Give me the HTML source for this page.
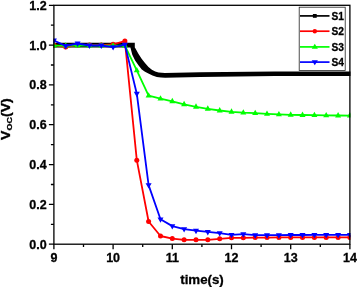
<!DOCTYPE html>
<html><head><meta charset="utf-8"><title>Voc vs time</title>
<style>html,body{margin:0;padding:0;background:#fff}svg{display:block}text{stroke:#000;stroke-width:.3px}</style></head>
<body>
<svg width="357" height="287" viewBox="0 0 357 287">
<rect width="357" height="287" fill="#fff"/>
<defs><clipPath id="cp"><rect x="53.3" y="4.7" width="297.2" height="240.1"/></clipPath></defs>
<g clip-path="url(#cp)">
<path d="M53.0 42.7L134.8 42.7L134.8 47.4L135.5 48.4L138.4 53.7L141.8 58.9L145.2 63.2L148.5 66.9L151.9 69.8L155.2 71.6L158.6 72.5L165.0 72.9L200.0 72.2L275.0 71.5L351.0 71.5L351.0 76.1L275.0 76.1L200.0 77.0L165.2 77.8L161.0 77.6L156.8 77.0L152.5 75.6L148.4 73.6L145.0 71.8L141.8 69.6L139.0 66.0L135.1 60.4L132.3 54.8L130.6 48.2L130.4 47.5L53.0 47.5z" fill="#000"/>
<polyline points="53.9,45.1 65.7,47.1 77.6,45.1 89.4,45.1 101.3,45.1 113.1,44.3 124.9,41.1 136.8,160.2 148.6,221.5 160.5,236.0 172.3,238.6 184.1,239.8 196.0,239.8 207.8,239.8 219.7,238.8 231.5,237.8 243.3,237.8 255.2,237.6 267.0,237.6 278.9,237.4 290.7,237.4 302.5,237.4 314.4,237.4 326.2,237.4 338.1,237.4 349.9,237.4" fill="none" stroke="#f00" stroke-width="1.8" stroke-linejoin="round"/>
<circle cx="53.9" cy="45.1" r="2.5" fill="#f00"/>
<circle cx="65.7" cy="47.1" r="2.5" fill="#f00"/>
<circle cx="77.6" cy="45.1" r="2.5" fill="#f00"/>
<circle cx="89.4" cy="45.1" r="2.5" fill="#f00"/>
<circle cx="101.3" cy="45.1" r="2.5" fill="#f00"/>
<circle cx="113.1" cy="44.3" r="2.5" fill="#f00"/>
<circle cx="124.9" cy="41.1" r="2.5" fill="#f00"/>
<circle cx="136.8" cy="160.2" r="2.5" fill="#f00"/>
<circle cx="148.6" cy="221.5" r="2.5" fill="#f00"/>
<circle cx="160.5" cy="236.0" r="2.5" fill="#f00"/>
<circle cx="172.3" cy="238.6" r="2.5" fill="#f00"/>
<circle cx="184.1" cy="239.8" r="2.5" fill="#f00"/>
<circle cx="196.0" cy="239.8" r="2.5" fill="#f00"/>
<circle cx="207.8" cy="239.8" r="2.5" fill="#f00"/>
<circle cx="219.7" cy="238.8" r="2.5" fill="#f00"/>
<circle cx="231.5" cy="237.8" r="2.5" fill="#f00"/>
<circle cx="243.3" cy="237.8" r="2.5" fill="#f00"/>
<circle cx="255.2" cy="237.6" r="2.5" fill="#f00"/>
<circle cx="267.0" cy="237.6" r="2.5" fill="#f00"/>
<circle cx="278.9" cy="237.4" r="2.5" fill="#f00"/>
<circle cx="290.7" cy="237.4" r="2.5" fill="#f00"/>
<circle cx="302.5" cy="237.4" r="2.5" fill="#f00"/>
<circle cx="314.4" cy="237.4" r="2.5" fill="#f00"/>
<circle cx="326.2" cy="237.4" r="2.5" fill="#f00"/>
<circle cx="338.1" cy="237.4" r="2.5" fill="#f00"/>
<circle cx="349.9" cy="237.4" r="2.5" fill="#f00"/>
<polyline points="53.9,45.7 65.7,45.7 77.6,45.7 89.4,45.7 101.3,45.7 113.1,45.7 124.9,45.7 136.8,70.4 148.6,95.7 160.5,98.7 172.3,101.3 184.1,104.3 196.0,106.8 207.8,108.8 219.7,110.5 231.5,111.8 243.3,112.7 255.2,113.2 267.0,113.9 278.9,114.4 290.7,114.8 302.5,115.0 314.4,115.2 326.2,115.4 338.1,115.5 349.9,115.6" fill="none" stroke="#0f0" stroke-width="1.8" stroke-linejoin="round"/>
<path d="M53.9 42.2l3 5.4h-6z" fill="#0f0"/>
<path d="M65.7 42.2l3 5.4h-6z" fill="#0f0"/>
<path d="M77.6 42.2l3 5.4h-6z" fill="#0f0"/>
<path d="M89.4 42.2l3 5.4h-6z" fill="#0f0"/>
<path d="M101.3 42.2l3 5.4h-6z" fill="#0f0"/>
<path d="M113.1 42.2l3 5.4h-6z" fill="#0f0"/>
<path d="M124.9 42.2l3 5.4h-6z" fill="#0f0"/>
<path d="M136.8 66.9l3 5.4h-6z" fill="#0f0"/>
<path d="M148.6 92.2l3 5.4h-6z" fill="#0f0"/>
<path d="M160.5 95.2l3 5.4h-6z" fill="#0f0"/>
<path d="M172.3 97.8l3 5.4h-6z" fill="#0f0"/>
<path d="M184.1 100.8l3 5.4h-6z" fill="#0f0"/>
<path d="M196.0 103.3l3 5.4h-6z" fill="#0f0"/>
<path d="M207.8 105.3l3 5.4h-6z" fill="#0f0"/>
<path d="M219.7 107.0l3 5.4h-6z" fill="#0f0"/>
<path d="M231.5 108.3l3 5.4h-6z" fill="#0f0"/>
<path d="M243.3 109.2l3 5.4h-6z" fill="#0f0"/>
<path d="M255.2 109.7l3 5.4h-6z" fill="#0f0"/>
<path d="M267.0 110.4l3 5.4h-6z" fill="#0f0"/>
<path d="M278.9 110.9l3 5.4h-6z" fill="#0f0"/>
<path d="M290.7 111.3l3 5.4h-6z" fill="#0f0"/>
<path d="M302.5 111.5l3 5.4h-6z" fill="#0f0"/>
<path d="M314.4 111.7l3 5.4h-6z" fill="#0f0"/>
<path d="M326.2 111.9l3 5.4h-6z" fill="#0f0"/>
<path d="M338.1 112.0l3 5.4h-6z" fill="#0f0"/>
<path d="M349.9 112.1l3 5.4h-6z" fill="#0f0"/>
<polyline points="53.9,40.5 65.7,45.9 77.6,43.5 89.4,45.5 101.3,45.5 113.1,47.1 124.9,44.7 136.8,93.7 148.6,185.1 160.5,219.3 172.3,226.1 184.1,229.1 196.0,230.7 207.8,231.9 219.7,233.1 231.5,234.8 243.3,234.2 255.2,235.2 267.0,235.2 278.9,235.2 290.7,235.0 302.5,235.0 314.4,234.8 326.2,234.8 338.1,234.8 349.9,234.8" fill="none" stroke="#00f" stroke-width="1.8" stroke-linejoin="round"/>
<path d="M53.9 44.0l3 -5.4h-6z" fill="#00f"/>
<path d="M65.7 49.4l3 -5.4h-6z" fill="#00f"/>
<path d="M77.6 47.0l3 -5.4h-6z" fill="#00f"/>
<path d="M89.4 49.0l3 -5.4h-6z" fill="#00f"/>
<path d="M101.3 49.0l3 -5.4h-6z" fill="#00f"/>
<path d="M113.1 50.6l3 -5.4h-6z" fill="#00f"/>
<path d="M124.9 48.2l3 -5.4h-6z" fill="#00f"/>
<path d="M136.8 97.2l3 -5.4h-6z" fill="#00f"/>
<path d="M148.6 188.6l3 -5.4h-6z" fill="#00f"/>
<path d="M160.5 222.8l3 -5.4h-6z" fill="#00f"/>
<path d="M172.3 229.6l3 -5.4h-6z" fill="#00f"/>
<path d="M184.1 232.6l3 -5.4h-6z" fill="#00f"/>
<path d="M196.0 234.2l3 -5.4h-6z" fill="#00f"/>
<path d="M207.8 235.4l3 -5.4h-6z" fill="#00f"/>
<path d="M219.7 236.6l3 -5.4h-6z" fill="#00f"/>
<path d="M231.5 238.3l3 -5.4h-6z" fill="#00f"/>
<path d="M243.3 237.7l3 -5.4h-6z" fill="#00f"/>
<path d="M255.2 238.7l3 -5.4h-6z" fill="#00f"/>
<path d="M267.0 238.7l3 -5.4h-6z" fill="#00f"/>
<path d="M278.9 238.7l3 -5.4h-6z" fill="#00f"/>
<path d="M290.7 238.5l3 -5.4h-6z" fill="#00f"/>
<path d="M302.5 238.5l3 -5.4h-6z" fill="#00f"/>
<path d="M314.4 238.3l3 -5.4h-6z" fill="#00f"/>
<path d="M326.2 238.3l3 -5.4h-6z" fill="#00f"/>
<path d="M338.1 238.3l3 -5.4h-6z" fill="#00f"/>
<path d="M349.9 238.3l3 -5.4h-6z" fill="#00f"/>
</g>
<rect x="53.9" y="5.3" width="296.0" height="238.9" fill="none" stroke="#000" stroke-width="1.3"/>
<path d="M53.9 244.2h-5M53.9 224.3h-3M53.9 204.4h-5M53.9 184.5h-3M53.9 164.6h-5M53.9 144.7h-3M53.9 124.7h-5M53.9 104.8h-3M53.9 84.9h-5M53.9 65.0h-3M53.9 45.1h-5M53.9 25.2h-3M53.9 5.3h-5M53.9 244.2v5M83.5 244.2v2.8M113.1 244.2v5M142.7 244.2v2.8M172.3 244.2v5M201.9 244.2v2.8M231.5 244.2v5M261.1 244.2v2.8M290.7 244.2v5M320.3 244.2v2.8M349.9 244.2v5" stroke="#000" stroke-width="1.3" fill="none"/>
<g font-family="Liberation Sans, Arial, sans-serif" font-weight="bold" fill="#000">
<g font-size="12.5" text-anchor="end">
<text x="46.6" y="248.7">0.0</text>
<text x="46.6" y="208.9">0.2</text>
<text x="46.6" y="169.1">0.4</text>
<text x="46.6" y="129.2">0.6</text>
<text x="46.6" y="89.4">0.8</text>
<text x="46.6" y="49.6">1.0</text>
<text x="46.6" y="9.8">1.2</text>
</g><g font-size="12.5" text-anchor="middle">
<text x="53.9" y="262.4">9</text>
<text x="113.1" y="262.4">10</text>
<text x="172.3" y="262.4">11</text>
<text x="231.5" y="262.4">12</text>
<text x="290.7" y="262.4">13</text>
<text x="349.9" y="262.4">14</text>
</g>
<text x="202" y="283.6" font-size="13.3" text-anchor="middle">time(s)</text>
<text transform="translate(10.1,139.9) rotate(-90) scale(1.15,1)" font-size="12.3">V<tspan font-size="7.8" dy="1.6">OC</tspan><tspan dy="-1.6">(V)</tspan></text>
<rect x="299.2" y="7.2" width="46" height="63.2" fill="#fff" stroke="#222" stroke-width="0.8"/>
<path d="M300 15.9H329.5" stroke="#000" stroke-width="1.7"/>
<rect x="312.9" y="14.0" width="3.8" height="3.8" fill="#000"/>
<text x="331.4" y="19.7" font-size="10.2">S1</text>
<path d="M300 31.2H329.5" stroke="#f00" stroke-width="1.7"/>
<circle cx="314.8" cy="31.2" r="2.2" fill="#f00"/>
<text x="331.4" y="35.0" font-size="10.2">S2</text>
<path d="M300 46.9H329.5" stroke="#0f0" stroke-width="1.7"/>
<path d="M314.8 43.7l3.1 5h-6.2z" fill="#0f0"/>
<text x="331.4" y="50.7" font-size="10.2">S3</text>
<path d="M300 62.1H329.5" stroke="#00f" stroke-width="1.7"/>
<path d="M314.8 65.3l3.1 -5h-6.2z" fill="#00f"/>
<text x="331.4" y="65.9" font-size="10.2">S4</text>
</g></svg>
</body></html>
